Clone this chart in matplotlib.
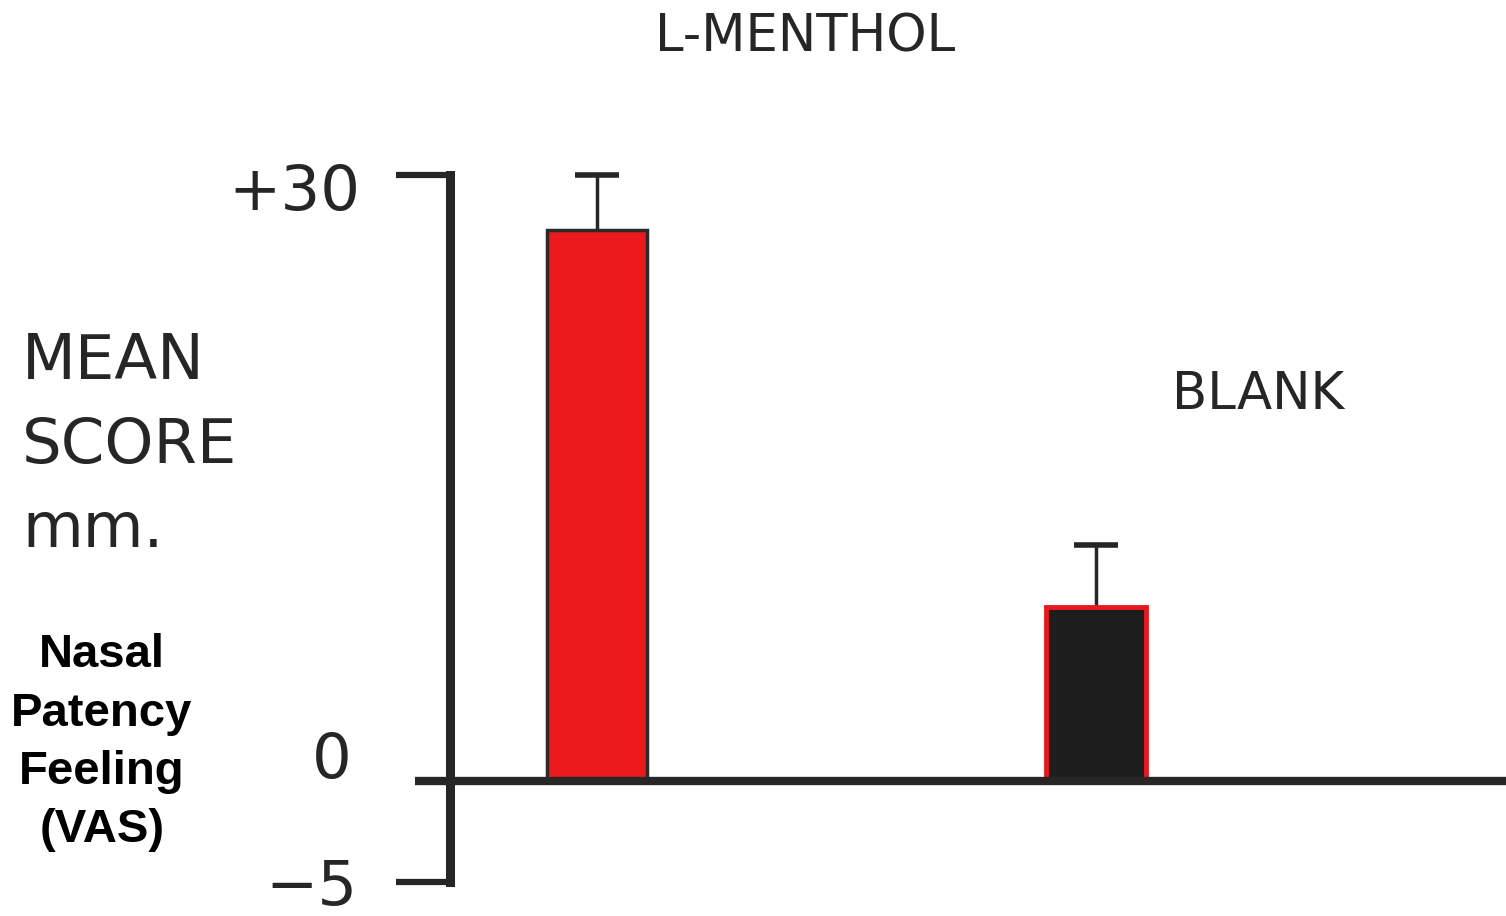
import matplotlib.pyplot as plt
import matplotlib.transforms as mtransforms

# data
groups = ["L-MENTHOL", "BLANK"]
mean_score = [27.3, 8.6]
sem_upper = [2.7, 3.1]
bar_colors = ["#ec1a1c", "#1d1d1d"]
edge_colors = ["#2a2a2a", "#e8191c"]

y_ticks = [30, 0, -5]
y_tick_labels = ["+30", "0", "\u22125"]

ylabel_lines = ["MEAN", "SCORE", "mm."]
vas_lines = ["Nasal", "Patency", "Feeling", "(VAS)"]

ink = "#262626"

W, H = 1506, 916
fig = plt.figure(figsize=(W / 100, H / 100), dpi=100)
fig.patch.set_facecolor("white")

ax = fig.add_axes([450 / W, (H - 882) / H, (W - 450) / W, 707 / H])
ax.set_xlim(-0.2946, 1.8216)
ax.set_ylim(-5, 30)

x = list(range(len(groups)))
for i in x:
    ax.bar(
        i,
        mean_score[i],
        width=0.2,
        color=bar_colors[i],
        edgecolor=edge_colors[i],
        linewidth=2.5 if i == 0 else 3.5,
        zorder=2
    )
    eb = ax.errorbar(
        i,
        mean_score[i],
        yerr=[[0], [sem_upper[i]]],
        fmt="none",
        ecolor=ink,
        elinewidth=2.5,
        capsize=16,
        capthick=4,
        zorder=1,
        clip_on=False
    )
    # only the upper cap is drawn in the original
    eb[1][0].set_visible(False)

# zero line, extends a little left of the axis
trans = mtransforms.blended_transform_factory(ax.transAxes, ax.transData)
ax.plot([-0.033, 1.0], [0, 0], color=ink, linewidth=6,
        transform=trans, clip_on=False, zorder=3, solid_capstyle="butt")

for side in ["top", "right", "bottom"]:
    ax.spines[side].set_visible(False)
ax.spines["left"].set_linewidth(6.5)
ax.spines["left"].set_color(ink)
ax.spines["left"].set_capstyle("projecting")

ax.set_xticks([])
ax.set_yticks([-5, 30])
ax.set_yticklabels([])
ax.tick_params(axis="y", length=39, width=4.5, color=ink)

# tick labels placed by hand (the scan has them offset from the ticks)
label_offsets = {30: (-90, -18), 0: (-98, 20), -5: (-93, -6)}
for v, lab in zip(y_ticks, y_tick_labels):
    ax.annotate(
        lab,
        xy=(0, v), xycoords=trans,
        xytext=label_offsets[v],
        textcoords="offset pixels",
        ha="right", va="center",
        fontsize=45, color=ink, family="DejaVu Sans",
        annotation_clip=False
    )

# group labels
fig.text(805 / W, 1 - 38 / H, groups[0], ha="center", va="center",
         fontsize=37, color=ink)
fig.text(1258 / W, 1 - 395 / H, groups[1], ha="center", va="center",
         fontsize=37, color=ink)

# old y label
for k, line in enumerate(ylabel_lines):
    fig.text(22 / W, 1 - (362 + 84 * k) / H, line, ha="left", va="center",
             fontsize=45, color=ink)

# added y label
for k, line in enumerate(vas_lines):
    fig.text(102 / W, 1 - (655 + 58.5 * k) / H, line, ha="center",
             va="center", fontsize=34, fontweight="bold",
             family="Liberation Sans", color="black")

fig.savefig("out.png", dpi=100)
